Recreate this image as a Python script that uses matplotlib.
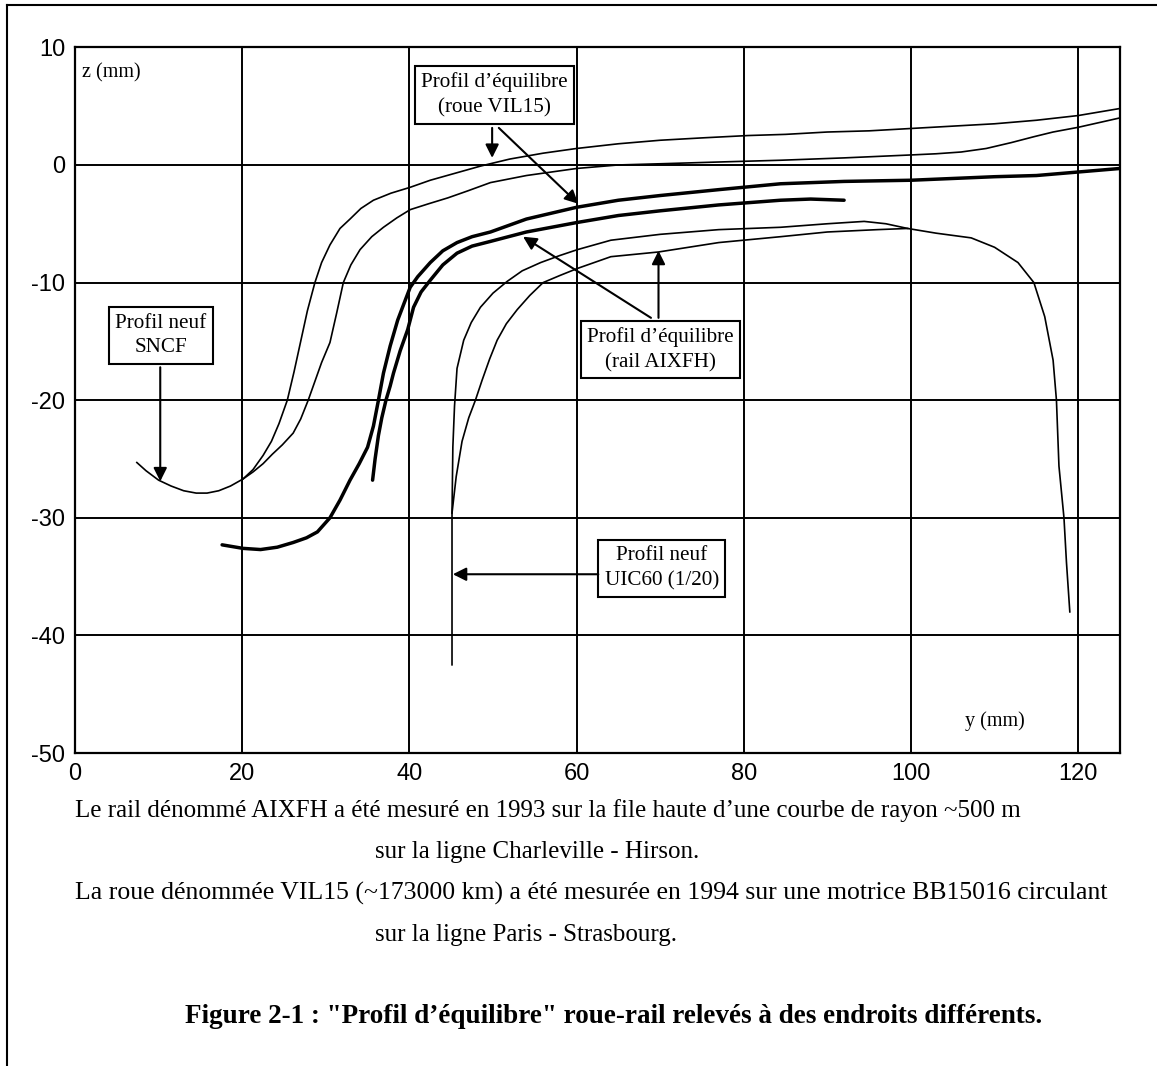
import matplotlib
matplotlib.use("Agg")
import matplotlib.pyplot as plt
from matplotlib.lines import Line2D

plt.rcParams['axes.unicode_minus'] = False

# Profil neuf SNCF (roue, trait fin)
roue_sncf_y = [7.4, 8.5, 10, 11.5, 13, 14.5, 15.8, 17.2, 18.6, 20.1, 21.3, 22.5, 23.5, 24.4, 25.4,
               26.2, 27.0, 27.8, 28.7, 29.5, 30.5, 31.7, 32.9, 34.2, 35.7, 37.8, 40.1, 42.5, 45.0,
               48.5, 52, 56, 60, 65, 70, 75, 80.5, 85, 90, 95, 100, 105, 110, 115, 120, 125]
roue_sncf_z = [-25.3, -26.0, -26.8, -27.3, -27.7, -27.9, -27.9, -27.7, -27.3, -26.7, -25.9, -24.7,
               -23.5, -22.0, -20.0, -17.6, -15.0, -12.4, -10.0, -8.3, -6.8, -5.4, -4.6, -3.7, -3.0,
               -2.4, -1.9, -1.3, -0.8, -0.1, 0.5, 1.0, 1.4, 1.8, 2.1, 2.3, 2.5, 2.6, 2.8, 2.9, 3.1,
               3.3, 3.5, 3.8, 4.2, 4.8]

# Roue VIL15 mesuree (trait fin)
roue_vil15_y = [20.1, 21.3, 22.5, 23.6, 24.8, 26.1, 27.0, 27.9, 28.7, 29.5, 30.5, 31.3, 32.1, 33.0,
                34.1, 35.5, 36.9, 38.5, 40.1, 42.3, 44.6, 47, 49.7, 54, 60, 65, 70, 77, 84.4, 92,
                100, 103, 106, 109, 112, 114.7, 117, 120, 125]
roue_vil15_z = [-26.7, -26.1, -25.4, -24.6, -23.8, -22.8, -21.6, -20.0, -18.4, -16.8, -15.1, -12.6,
                -10.0, -8.5, -7.2, -6.1, -5.3, -4.5, -3.8, -3.3, -2.8, -2.2, -1.5, -0.9, -0.3, 0.0,
                0.1, 0.25, 0.4, 0.6, 0.85, 0.95, 1.1, 1.4, 1.9, 2.4, 2.8, 3.2, 4.0]

# Profil d'equilibre roue VIL15 (trait epais)
equ_roue_y = [17.6, 20.1, 22.2, 24.2, 26.1, 27.7, 29.0, 30.5, 31.7, 32.9, 34.0, 35.0, 35.7, 36.3,
              36.9, 37.7, 38.6, 39.4, 40.1, 41.0, 42.5, 44.0, 45.7, 47.5, 49.7, 54, 60, 65, 70, 77,
              84.4, 92, 100, 110, 115, 120, 125]
equ_roue_z = [-32.3, -32.6, -32.7, -32.5, -32.1, -31.7, -31.2, -30.0, -28.5, -26.8, -25.4, -24.0,
              -22.2, -20.0, -17.7, -15.4, -13.2, -11.7, -10.4, -9.5, -8.3, -7.3, -6.6, -6.1, -5.7,
              -4.6, -3.6, -3.0, -2.6, -2.1, -1.6, -1.4, -1.3, -1.0, -0.9, -0.6, -0.3]

# Profil d'equilibre rail AIXFH (trait epais)
equ_rail_y = [35.6, 35.9, 36.3, 36.7, 37.2, 37.7, 38.1, 38.9, 39.8, 40.5, 41.4, 42.5, 44.0, 45.7,
              47.5, 49.7, 54, 60, 65, 70, 77, 84.4, 88, 92]
equ_rail_z = [-26.8, -25.0, -23.0, -21.5, -20.0, -18.8, -17.7, -15.8, -14.0, -12.1, -10.8, -9.8,
              -8.5, -7.5, -6.9, -6.5, -5.7, -4.9, -4.3, -3.9, -3.4, -3.0, -2.9, -3.0]

# Profil neuf UIC60 (1/20) (trait fin)
rail_uic60_y = [45.1, 45.1, 45.1, 45.2, 45.4, 45.7, 46.5, 47.4, 48.5, 50.0, 51.7, 53.5, 55.7, 58,
                60.1, 64.1, 70, 77, 84.4, 90, 94.4, 97, 99.6, 103, 107.2, 110, 112.8, 114.7, 116,
                117, 117.4, 117.7, 118.3, 118.6, 119]
rail_uic60_z = [-42.5, -35, -29.6, -24, -20.5, -17.3, -14.9, -13.4, -12.1, -10.9, -9.9, -9.0, -8.3,
                -7.7, -7.2, -6.4, -5.9, -5.5, -5.3, -5.0, -4.8, -5.0, -5.4, -5.8, -6.2, -7.0, -8.3,
                -10.0, -12.9, -16.6, -20, -25.6, -30, -33.8, -38]

# Rail AIXFH mesure (trait fin)
rail_aixfh_y = [45.1, 45.6, 46.3, 47.1, 47.9, 48.7, 49.6, 50.5, 51.6, 52.9, 54.4, 56.0, 58, 60.1,
                64.1, 69.8, 77, 84.4, 90, 96, 99.6]
rail_aixfh_z = [-29.6, -26.5, -23.5, -21.5, -20.0, -18.3, -16.5, -14.9, -13.5, -12.3, -11.1, -10.0,
                -9.4, -8.8, -7.8, -7.4, -6.6, -6.1, -5.7, -5.5, -5.4]

x_ticks = [0, 20, 40, 60, 80, 100, 120]
y_ticks = [-50, -40, -30, -20, -10, 0, 10]

fig = plt.figure(figsize=(11.57, 10.66), dpi=100)
ax = fig.add_axes([0.0648, 0.2936, 0.9032, 0.662])

fin = 1.2
epais = 2.5
ax.plot(roue_sncf_y, roue_sncf_z, color='black', lw=fin)
ax.plot(roue_vil15_y, roue_vil15_z, color='black', lw=fin)
ax.plot(equ_roue_y, equ_roue_z, color='black', lw=epais, solid_capstyle='round')
ax.plot(equ_rail_y, equ_rail_z, color='black', lw=epais, solid_capstyle='round')
ax.plot(rail_uic60_y, rail_uic60_z, color='black', lw=fin)
ax.plot(rail_aixfh_y, rail_aixfh_z, color='black', lw=fin)

ax.set_xlim(0, 125)
ax.set_ylim(-50, 10)
ax.set_xticks(x_ticks)
ax.set_yticks(y_ticks)
ax.tick_params(length=0, labelsize=17, pad=7)
for lab in ax.get_xticklabels() + ax.get_yticklabels():
    lab.set_family('Liberation Sans')
ax.grid(True, color='black', lw=1.4)
for sp in ax.spines.values():
    sp.set_linewidth(1.6)

serif = 'Liberation Serif'
ax.text(0.9, 7.8, "z (mm)", family=serif, fontsize=14.5, va='center', ha='left')
ax.text(110, -47.3, "y (mm)", family=serif, fontsize=14.5, va='center', ha='center')

boite = dict(boxstyle='square,pad=0.3', facecolor='white', edgecolor='black', lw=1.5)
fleche = dict(arrowstyle='-|>', color='black', lw=1.5, mutation_scale=20, shrinkA=0, shrinkB=0)

ax.text(50.2, 5.95, "Profil d’équilibre\n(roue VIL15)", family=serif, fontsize=15.2,
        ha='center', va='center', bbox=boite, linespacing=1.4)
ax.annotate("", xy=(49.9, 0.6), xytext=(49.9, 3.15), arrowprops=fleche)
ax.annotate("", xy=(60.2, -3.3), xytext=(50.7, 3.15), arrowprops=fleche)

ax.text(70.0, -15.7, "Profil d’équilibre\n(rail AIXFH)", family=serif, fontsize=15.2,
        ha='center', va='center', bbox=boite, linespacing=1.4)
ax.annotate("", xy=(53.6, -6.1), xytext=(68.9, -13.0), arrowprops=fleche)
ax.annotate("", xy=(69.8, -7.3), xytext=(69.8, -13.0), arrowprops=fleche)

ax.text(10.3, -14.5, "Profil neuf\nSNCF", family=serif, fontsize=15.2,
        ha='center', va='center', bbox=boite, linespacing=1.4)
ax.annotate("", xy=(10.2, -26.9), xytext=(10.2, -17.2), arrowprops=fleche)

ax.text(70.2, -34.3, "Profil neuf\nUIC60 (1/20)", family=serif, fontsize=15.2,
        ha='center', va='center', bbox=boite, linespacing=1.4)
ax.annotate("", xy=(45.2, -34.8), xytext=(62.6, -34.8), arrowprops=fleche)

# legende sous le graphique
fig.text(0.0648, 0.240, "Le rail dénommé AIXFH a été mesuré en 1993 sur la file haute d’une courbe de rayon ~500 m",
         family=serif, fontsize=18, va='center', ha='left')
fig.text(0.324, 0.2007, "sur la ligne Charleville - Hirson.", family=serif, fontsize=18,
         va='center', ha='left')
fig.text(0.0648, 0.1623, "La roue dénommée VIL15 (~173000 km) a été mesurée en 1994 sur une motrice BB15016 circulant",
         family=serif, fontsize=18.5, va='center', ha='left')
fig.text(0.324, 0.1229, "sur la ligne Paris - Strasbourg.", family=serif, fontsize=18,
         va='center', ha='left')
fig.text(0.16, 0.046, "Figure 2-1 : \"Profil d’équilibre\" roue-rail relevés à des endroits différents.",
         family=serif, fontsize=19.5, fontweight='bold', va='center', ha='left')

# cadre de la page
fig.add_artist(Line2D([0.006, 0.006], [0.0, 0.995], transform=fig.transFigure, color='black', lw=1.5))
fig.add_artist(Line2D([0.006, 1.0], [0.995, 0.995], transform=fig.transFigure, color='black', lw=1.5))

fig.savefig("out.png", dpi=100)
